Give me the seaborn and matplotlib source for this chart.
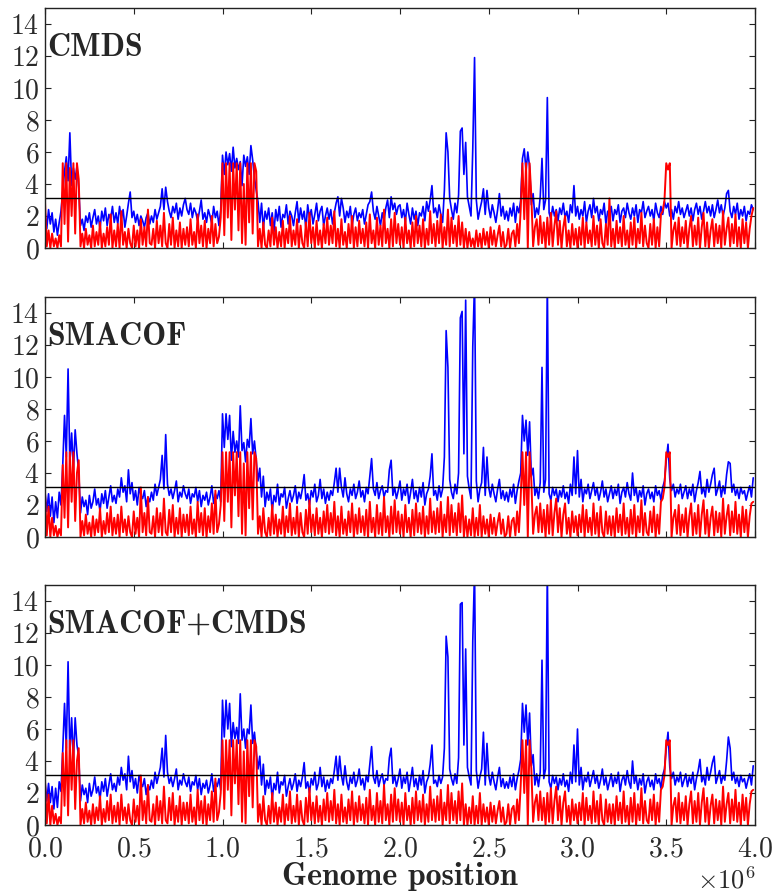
import numpy as np
import pandas as pd
import matplotlib
matplotlib.use("Agg")
import matplotlib.pyplot as plt
import seaborn as sns

# ---------------- data (10 kb steps) ----------------
step = 1e4
panel_names = ["CMDS", "SMACOF", "SMACOF+CMDS"]
threshold = 3.1

blue_cmds = [
    2.3,1.2,2.4,1.5,2.2,1.0,1.8,0.8,1.6,2.3, 3.5,4.8,5.7,4.2,7.2,3.9,5.0,4.3,5.1,3.8,
    1.4,1.8,1.1,2.0,1.6,2.2,1.3,1.9,2.4,1.5, 2.0,1.2,2.3,1.7,2.5,1.4,2.1,1.8,2.6,1.6,
    2.2,1.5,2.6,1.8,2.4,1.3,2.0,2.8,3.5,1.9, 2.3,1.6,2.1,1.4,2.0,1.7,1.3,1.9,2.2,1.5,
    2.0,1.6,2.4,1.8,2.2,2.6,3.7,2.4,3.8,2.9, 2.3,1.9,2.6,2.2,2.8,1.8,2.5,2.0,2.7,3.1,
    2.4,2.1,2.8,1.9,2.5,2.2,1.7,2.3,3.0,1.8, 2.2,1.6,2.4,2.0,1.5,2.6,1.9,2.3,1.4,2.4,
    5.8,4.6,6.0,5.2,5.9,4.8,6.3,5.0,5.6,4.9, 5.4,3.9,5.8,5.1,5.7,4.6,6.4,5.5,4.4,3.6,
    2.9,1.6,2.8,1.2,2.3,1.8,2.5,1.4,2.2,1.0, 2.4,1.7,2.6,1.3,2.1,1.9,2.7,1.5,2.3,2.0,
    1.4,2.2,2.9,1.6,2.5,1.8,2.3,1.2,2.7,1.9, 2.4,1.5,2.1,2.8,1.7,2.3,2.6,1.4,2.0,2.5,
    1.8,2.4,1.5,2.2,2.8,3.2,2.0,3.1,2.5,1.6, 2.3,1.9,2.6,1.4,2.1,2.5,1.7,2.2,1.9,2.4,
    1.5,2.1,2.7,2.9,3.5,2.3,1.8,2.6,2.0,1.4, 2.2,1.7,2.5,3.0,1.9,3.2,2.4,2.8,2.1,2.6,
    2.7,1.9,2.4,1.6,2.8,2.1,1.5,2.5,1.8,2.3, 1.4,2.2,2.0,2.6,1.7,2.9,2.3,3.0,3.9,2.2,
    2.5,1.9,2.7,2.1,1.6,3.6,7.2,6.0,3.1,2.4, 1.8,2.8,2.2,3.3,7.3,7.5,4.6,6.6,3.2,2.6,
    2.0,6.2,11.9,3.0,1.8,2.4,2.9,3.7,2.1,3.6, 2.5,1.9,2.7,2.2,1.6,2.4,3.4,2.0,2.6,1.8,
    2.3,1.7,2.5,2.0,2.8,1.6,2.6,2.2,3.0,5.6, 6.2,4.8,6.0,5.1,2.7,3.4,1.9,2.5,2.1,3.2,
    5.6,2.4,3.0,9.4,2.2,1.8,2.6,2.0,2.4,1.7, 2.5,2.1,2.8,1.9,2.3,1.6,2.7,2.2,3.9,2.0,
    2.6,1.8,2.4,2.0,2.9,1.6,2.3,2.7,1.9,3.1, 2.2,2.6,1.7,2.4,2.1,2.8,1.5,2.3,2.0,2.6,
    1.7,2.4,2.1,2.7,1.6,2.3,2.5,1.9,2.8,2.2, 1.8,2.5,2.0,2.7,1.6,2.4,2.2,2.9,1.9,2.3,
    2.6,2.0,2.4,1.7,2.8,2.2,1.9,2.6,2.1,2.9, 2.5,2.8,2.0,2.4,1.8,2.6,2.2,2.9,2.1,2.5,
    1.9,2.3,2.7,2.0,2.5,1.7,2.4,2.8,2.1,2.6, 1.8,2.3,2.9,2.2,2.6,2.0,2.7,1.9,2.4,3.0,
    2.2,2.7,2.0,2.5,3.4,3.6,2.3,1.9,2.6,2.1, 2.8,1.8,2.4,2.0,2.6,1.7,2.3,2.1,2.7,2.4,
]

red_cmds = [
    2.9,0.1,1.1,0.0,0.9,0.1,0.6,0.0,0.8,0.1, 5.3,1.5,5.3,0.4,5.0,2.0,5.3,0.9,5.3,4.3,
    0.1,0.9,0.0,1.2,0.2,0.8,0.0,1.4,0.1,1.0, 0.2,1.6,0.0,0.9,0.1,1.3,0.2,2.1,0.0,1.1,
    0.1,1.5,0.0,2.3,0.2,1.0,0.0,1.2,0.3,0.0, 1.4,0.1,1.1,0.0,1.8,0.2,1.3,0.1,2.4,0.3,
    0.2,1.2,0.0,1.7,0.3,1.4,0.1,2.2,0.3,0.0, 1.5,0.2,1.9,0.0,1.1,0.1,1.6,0.0,1.2,0.2,
    1.3,0.1,1.8,0.2,1.0,0.0,2.1,0.3,1.4,0.1, 1.7,0.0,1.2,0.3,2.0,0.1,1.5,0.3,0.7,1.9,
    5.3,0.8,5.3,1.9,5.3,0.5,5.3,2.4,5.3,1.1, 5.3,0.3,4.0,0.2,5.3,1.6,5.3,0.9,5.3,4.8,
    0.1,1.2,0.0,1.6,0.2,0.0,1.1,0.1,1.9,0.2, 1.3,0.0,1.0,0.1,1.7,0.0,1.2,0.3,2.0,0.1,
    1.1,0.2,1.8,0.0,1.4,0.3,0.0,1.6,0.1,2.2, 0.3,1.3,0.0,1.7,0.2,1.1,0.0,1.5,0.3,1.9,
    0.2,1.4,0.3,2.3,0.1,1.2,0.0,1.8,0.2,1.0, 0.0,1.5,0.3,2.0,0.0,1.3,0.1,1.7,0.3,1.2,
    0.1,1.6,0.0,2.1,0.3,1.1,0.0,1.9,0.2,1.4, 0.1,2.4,0.3,1.2,0.0,1.8,0.1,2.2,0.3,1.5,
    0.2,1.3,0.0,1.9,0.3,1.1,0.0,1.6,0.1,2.0, 0.3,1.4,0.1,1.8,0.0,1.2,0.2,2.3,0.3,1.5,
    0.1,1.7,0.3,2.1,0.0,1.3,0.2,2.4,0.1,1.9, 0.3,1.4,0.1,2.0,0.2,1.6,0.0,1.2,0.0,1.0,
    0.1,0.6,0.0,1.1,0.1,0.9,0.0,1.2,0.2,1.0, 0.0,1.3,0.2,1.1,0.1,0.8,1.4,0.1,1.0,0.0,
    0.2,1.2,0.0,0.9,1.1,0.1,1.5,0.3,2.4,5.3, 1.8,5.3,0.0,5.3,3.2,0.1,1.3,1.8,0.2,2.0,
    0.3,1.6,0.0,1.9,0.2,2.2,0.1,1.4,2.3,0.2, 1.7,0.0,1.3,2.0,0.1,1.1,0.0,1.5,0.2,1.2,
    0.0,1.3,0.2,1.9,0.0,1.6,0.3,1.1,0.1,2.0, 0.2,1.4,0.0,1.8,0.3,0.0,1.5,0.2,3.1,0.1,
    1.2,0.0,1.7,0.3,1.3,0.1,2.0,0.2,1.1,0.0, 1.6,0.2,1.9,0.0,1.2,0.3,2.2,0.1,1.4,0.3,
    0.0,1.5,0.2,1.8,0.0,1.3,0.1,2.1,2.3,3.0, 5.3,4.9,5.3,0.0,1.1,1.6,0.2,1.9,0.1,1.3,
    0.3,1.7,0.0,1.2,2.0,0.1,1.4,0.2,1.9,0.0, 1.3,2.2,0.1,1.6,0.0,1.1,1.8,0.1,1.5,0.3,
    1.4,0.0,2.3,0.2,1.2,1.9,0.1,1.5,0.3,2.1, 0.1,1.3,0.0,1.8,0.3,1.6,0.0,1.2,2.0,2.5,
]

blue_smacof = [
    2.8,1.6,2.7,1.3,2.5,0.9,2.2,1.2,2.8,2.0, 4.5,7.6,5.0,10.5,4.6,6.5,4.2,6.7,5.2,4.1,
    1.5,2.5,1.9,2.3,1.4,2.6,1.8,2.2,3.0,2.0, 2.4,1.6,2.7,2.1,2.9,1.8,2.5,3.2,2.2,2.6,
    2.1,3.0,2.5,3.7,2.8,3.2,2.2,4.2,2.7,3.4, 2.3,2.9,2.0,3.1,2.6,2.4,2.9,1.9,2.5,2.2,
    2.8,2.3,3.3,2.6,3.1,3.6,5.1,3.0,6.4,3.3, 2.6,3.0,2.4,2.9,3.5,2.2,2.8,2.5,3.2,2.7,
    2.4,3.0,2.1,2.7,2.5,3.1,2.2,2.9,1.9,2.6, 2.3,2.8,2.0,2.5,3.2,2.1,2.7,2.4,2.9,2.2,
    7.7,5.6,7.7,6.1,7.6,4.8,6.6,5.3,6.0,5.0, 8.2,5.4,5.9,4.7,6.1,5.6,7.4,5.2,6.0,4.8,
    3.5,4.3,2.5,3.8,1.9,2.8,2.3,3.0,1.6,2.6, 2.2,3.3,2.0,2.7,2.5,3.1,1.8,2.4,2.9,2.2,
    2.6,3.2,2.1,2.8,2.4,3.0,3.9,2.3,2.7,2.0, 2.9,2.5,3.3,2.2,2.6,3.6,2.4,3.0,2.1,2.8,
    2.3,2.9,2.6,3.4,4.3,2.8,4.3,3.1,2.5,3.7, 2.7,2.2,3.0,2.6,3.3,2.4,2.8,3.5,2.5,2.9,
    2.2,3.1,2.7,3.8,4.9,3.0,2.6,3.4,2.4,2.9, 3.2,2.5,2.9,2.8,4.2,4.8,2.6,3.1,2.4,2.9,
    3.5,2.3,3.0,2.6,3.3,2.1,2.8,3.6,2.4,2.9, 2.2,3.1,2.5,3.4,2.0,2.7,3.0,3.8,5.2,2.6,
    2.9,2.3,3.2,2.5,3.0,5.0,12.9,10.6,3.6,2.8, 2.4,3.3,2.7,4.0,13.7,14.1,5.2,14.8,3.8,3.0,
    2.4,11.9,16.0,3.5,2.2,3.0,3.4,5.6,2.6,5.0, 3.1,2.5,3.3,2.7,2.2,3.0,3.6,2.4,2.9,2.3,
    2.8,2.2,3.0,2.5,3.3,2.1,2.9,3.5,4.0,7.6, 6.0,7.3,5.1,7.2,3.8,4.3,2.6,3.1,2.4,3.4,
    10.6,2.8,3.6,16.0,2.7,2.3,3.1,2.6,3.0,2.2, 2.9,2.5,3.2,2.4,2.8,2.1,3.3,2.6,5.0,2.7,
    5.4,2.5,3.6,2.2,3.0,2.7,3.3,2.4,2.9,3.4, 2.6,3.1,2.3,2.8,3.5,2.5,3.0,2.2,2.7,3.2,
    2.4,3.0,2.6,3.3,2.1,2.8,3.1,2.5,3.4,2.7, 2.3,4.0,2.6,3.1,2.2,2.9,2.5,3.2,2.0,2.7,
    3.0,2.4,2.8,2.2,3.2,2.6,2.9,2.3,3.1,3.5, 4.8,5.8,3.6,2.9,3.3,2.5,3.0,2.7,3.3,2.4,
    2.8,3.2,2.4,3.0,2.6,3.3,2.2,2.9,3.4,4.1, 2.7,3.1,2.5,3.6,2.8,3.3,3.9,4.3,2.6,3.0,
    3.5,2.5,3.2,2.7,3.9,4.7,4.6,2.8,3.3,2.6, 3.0,2.4,3.1,2.7,2.9,2.3,2.8,3.2,2.5,3.7,
]

red_smacof = [
    2.8,0.1,1.9,0.0,1.2,0.1,0.7,0.0,0.5,0.1, 4.5,1.2,5.3,0.6,5.3,2.2,5.3,1.0,4.0,4.8,
    0.0,1.0,0.1,1.4,0.2,0.9,0.0,1.3,0.1,1.1, 0.3,1.8,0.0,1.0,0.2,1.5,0.3,1.9,0.1,1.2,
    0.2,1.4,0.0,1.9,0.3,1.1,0.1,1.3,0.3,0.0, 1.6,0.2,1.2,0.0,3.1,0.3,1.5,0.1,2.5,0.3,
    0.2,1.3,0.0,1.8,0.3,1.5,0.1,2.4,0.3,0.1, 1.7,0.3,2.0,0.0,1.2,0.2,1.8,0.0,1.4,0.3,
    1.4,0.1,1.9,0.2,1.1,0.0,2.2,0.3,1.5,0.1, 1.8,0.0,1.3,0.3,2.1,0.2,2.9,0.3,0.8,2.0,
    5.3,1.0,5.3,2.2,5.3,0.6,5.3,2.6,5.3,1.3, 5.3,0.2,4.6,0.1,5.3,1.8,5.3,1.1,5.3,4.9,
    0.2,1.3,0.0,1.8,0.3,0.0,1.2,0.1,2.0,0.2, 1.4,0.0,1.1,0.2,1.9,0.0,1.3,0.3,2.1,0.1,
    1.2,0.2,1.9,0.0,1.5,0.3,0.0,1.7,0.2,2.3, 0.3,1.4,0.1,1.8,0.2,1.2,0.0,1.6,0.3,2.0,
    0.2,1.5,0.3,2.2,0.1,1.3,0.0,1.9,0.2,1.1, 0.1,1.6,0.3,2.1,0.0,1.4,0.2,1.8,0.3,1.3,
    0.1,1.7,0.0,2.2,0.3,1.2,0.0,2.0,0.2,1.5, 0.1,2.5,0.3,1.3,0.0,1.9,0.2,2.3,0.3,1.6,
    0.2,1.4,0.0,2.0,0.3,1.2,0.0,1.7,0.1,2.1, 0.3,1.5,0.2,1.9,0.0,1.3,0.2,2.4,0.3,1.6,
    0.2,1.8,0.3,2.2,0.0,1.4,0.3,2.5,0.1,2.0, 0.3,1.5,0.1,2.1,0.3,2.6,0.0,1.3,0.0,1.1,
    0.1,1.8,0.0,1.2,0.1,2.0,0.0,1.3,0.2,1.1, 0.0,1.4,0.2,1.2,0.1,0.9,1.5,0.2,1.1,0.0,
    0.2,1.3,0.0,1.0,1.2,0.1,1.6,0.3,2.5,5.3, 2.0,5.3,0.0,5.3,3.5,0.2,1.4,1.9,0.3,2.1,
    0.3,1.7,0.0,2.0,0.2,2.3,0.1,1.5,2.4,0.3, 1.8,0.0,1.4,2.1,0.2,1.2,0.0,1.6,0.3,1.3,
    0.1,1.4,0.3,2.0,0.0,1.7,0.3,1.2,0.1,2.1, 0.2,1.5,0.0,1.9,0.3,0.0,1.6,0.2,1.3,0.1,
    1.3,0.0,1.8,0.3,1.4,0.1,2.1,0.2,1.2,0.0, 1.7,0.2,2.0,0.0,1.3,0.3,2.3,0.1,1.5,0.3,
    0.1,1.6,0.3,1.9,0.0,1.4,0.2,2.2,2.4,3.1, 5.3,5.0,5.3,0.0,1.2,1.7,0.2,2.0,0.1,1.4,
    0.3,1.8,0.0,1.3,2.1,0.1,1.5,0.2,2.0,0.0, 1.4,2.3,0.2,1.7,0.0,1.2,1.9,0.1,1.6,0.3,
    1.5,0.0,2.4,0.2,1.3,2.0,0.1,1.6,0.3,2.2, 0.2,1.4,0.0,1.9,0.3,1.7,0.0,1.3,2.1,2.2,
]

blue_combo = [
    2.7,1.5,2.6,1.4,2.4,1.0,2.3,1.1,2.7,2.1, 4.7,7.6,4.8,10.2,4.4,6.7,4.0,6.7,5.0,4.3,
    1.5,2.5,1.9,2.3,1.4,2.6,1.8,2.2,3.0,2.0, 2.4,1.6,2.7,2.1,2.9,1.8,2.5,3.2,2.2,2.6,
    2.1,3.0,2.5,3.6,2.8,3.2,2.2,4.3,2.7,3.4, 2.3,2.9,2.0,3.1,2.6,2.4,2.9,1.9,2.5,2.2,
    2.8,2.3,3.3,2.6,3.1,3.6,4.8,3.0,5.6,3.3, 2.6,3.0,2.4,2.9,3.5,2.2,2.8,2.5,3.2,2.7,
    2.4,3.0,2.1,2.7,2.5,3.1,2.2,2.9,1.9,2.6, 2.3,2.8,2.0,2.5,3.2,2.1,2.7,2.4,2.9,2.2,
    7.8,5.5,7.8,6.0,7.6,4.9,6.4,5.4,6.1,5.1, 8.2,5.3,6.0,4.8,6.0,5.7,7.5,5.1,5.8,4.6,
    3.5,4.3,2.5,3.8,1.9,2.8,2.3,3.0,1.6,2.6, 2.2,3.3,2.0,2.7,2.5,3.1,1.8,2.4,2.9,2.2,
    2.6,3.2,2.1,2.8,2.4,3.0,3.9,2.3,2.7,2.0, 2.9,2.5,3.3,2.2,2.6,3.6,2.4,3.0,2.1,2.8,
    2.3,2.9,2.6,3.4,4.3,2.8,4.3,3.1,2.5,3.7, 2.7,2.2,3.0,2.6,3.3,2.4,2.8,3.5,2.5,2.9,
    2.2,3.1,2.7,3.8,4.9,3.0,2.6,3.4,2.4,2.9, 3.2,2.5,2.9,2.8,4.2,4.8,2.6,3.1,2.4,2.9,
    3.5,2.3,3.0,2.6,3.3,2.1,2.8,3.6,2.4,2.9, 2.2,3.1,2.5,3.4,2.0,2.7,3.0,3.8,5.0,2.6,
    2.8,2.4,3.1,2.6,3.0,4.8,11.8,10.5,3.5,2.9, 2.5,3.2,2.6,4.2,13.8,13.9,5.0,11.0,3.6,3.0,
    2.5,11.5,16.0,3.4,2.3,3.0,3.5,5.8,2.5,5.1, 3.1,2.5,3.3,2.7,2.2,3.0,3.6,2.4,2.9,2.3,
    2.7,2.3,3.0,2.4,3.2,2.2,2.9,3.4,4.1,7.6, 5.8,7.5,5.0,7.0,3.7,4.4,2.5,3.2,2.4,3.3,
    10.3,2.9,3.5,16.0,2.7,2.3,3.1,2.6,3.0,2.2, 2.9,2.5,3.2,2.4,2.8,2.1,3.3,2.6,5.0,2.7,
    6.0,2.5,3.6,2.2,3.0,2.7,3.3,2.4,2.9,3.4, 2.6,3.1,2.3,2.8,3.5,2.5,3.0,2.2,2.7,3.2,
    2.4,3.0,2.6,3.3,2.1,2.8,3.1,2.5,3.4,2.7, 2.3,4.0,2.6,3.1,2.2,2.9,2.5,3.2,2.0,2.7,
    3.0,2.4,2.8,2.2,3.2,2.6,2.9,2.3,3.1,3.5, 4.8,5.8,3.6,2.9,3.3,2.5,3.0,2.7,3.3,2.4,
    2.8,3.2,2.4,3.0,2.6,3.3,2.2,2.9,3.4,4.1, 2.7,3.1,2.5,3.6,2.8,3.3,3.9,4.3,2.6,3.0,
    3.4,2.6,3.1,2.8,4.0,5.5,4.8,2.8,3.3,2.6, 3.0,2.4,3.1,2.7,2.9,2.3,2.8,3.2,2.5,3.7,
]

red_combo = list(red_smacof)

blue_series = [blue_cmds, blue_smacof, blue_combo]
red_series = [red_cmds, red_smacof, red_combo]

# ---------------- style ----------------
sns.set_style("ticks")
plt.rcParams.update({
    "font.family": ["cmr10", "DejaVu Serif"],
    "mathtext.fontset": "cm",
    "axes.formatter.use_mathtext": True,
    "xtick.direction": "in",
    "ytick.direction": "in",
    "xtick.top": True,
    "ytick.right": True,
    "xtick.major.size": 4,
    "ytick.major.size": 4,
    "axes.edgecolor": "#222222",
    "axes.linewidth": 1.0,
    "xtick.color": "#222222",
    "ytick.color": "#222222",
    "xtick.labelcolor": "#2a2a2a",
    "ytick.labelcolor": "#2a2a2a",
})

fig = plt.figure(figsize=(7.76, 8.96), dpi=100)
left, width, height = 45 / 776, 710 / 776, 240 / 896
bottoms = [1 - 248 / 896, 1 - 537 / 896, 1 - 825 / 896]

for k, name in enumerate(panel_names):
    ax = fig.add_axes([left, bottoms[k], width, height])
    b = blue_series[k]
    r = red_series[k]
    dfb = pd.DataFrame({"pos": np.arange(len(b)) * step, "val": b})
    dfr = pd.DataFrame({"pos": np.arange(len(r)) * step, "val": r})
    sns.lineplot(data=dfb, x="pos", y="val", color="#0000ff", lw=1.2,
                 estimator=None, sort=False, ax=ax)
    sns.lineplot(data=dfr, x="pos", y="val", color="#ff0000", lw=1.4,
                 estimator=None, sort=False, ax=ax)
    ax.axhline(threshold, color="black", lw=1.0)
    ax.set_xlim(0, 4e6)
    ax.set_ylim(0, 15)
    ax.set_yticks(np.arange(0, 15, 2))
    ax.set_xticks(np.arange(0, 4.01e6, 0.5e6))
    ax.tick_params(axis="y", labelsize=20, pad=4)
    ax.tick_params(axis="x", labelsize=20, pad=8)
    ax.set_ylabel("")
    ax.text(0.003, 12.0, name, transform=ax.get_yaxis_transform(),
            ha="left", va="baseline", fontsize=23, family="cmb10")
    if k < 2:
        ax.tick_params(labelbottom=False)
        ax.set_xlabel("")
    else:
        ax.set_xlabel("Genome position", fontsize=23, family="cmb10", labelpad=0)
        ax.xaxis.get_offset_text().set_fontsize(19)

fig.savefig("out.png", dpi=100)
